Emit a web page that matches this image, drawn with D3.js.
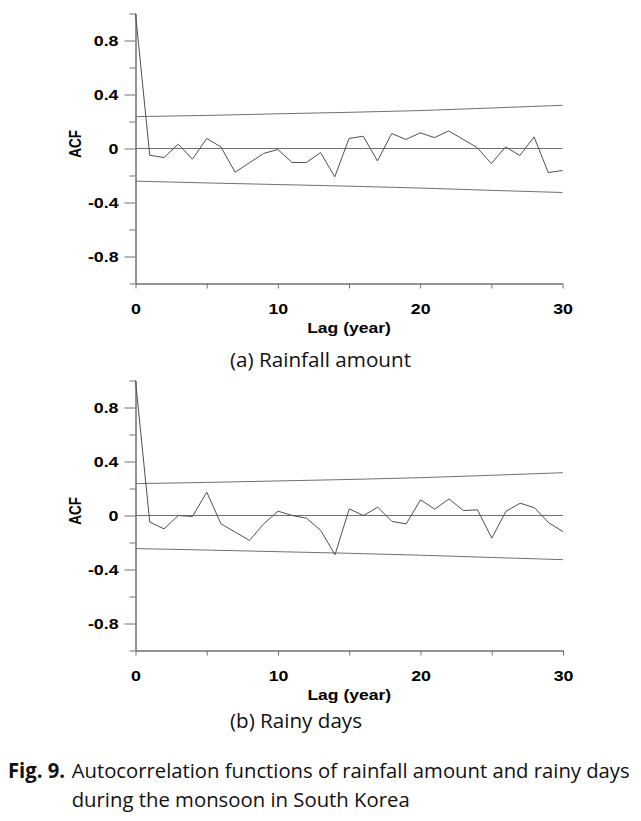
<!DOCTYPE html>
<html>
<head>
<meta charset="utf-8">
<script src="https://cdn.jsdelivr.net/npm/d3@7"></script>
<style>
  body { margin: 0; background: #ffffff; }
  svg { display: block; }
</style>
</head>
<body>
<script>
// ---- Data ----
const lags = [0,1,2,3,4,5,6,7,8,9,10,11,12,13,14,15,16,17,18,19,20,21,22,23,24,25,26,27,28,29,30];

const acfRainfall = [1.0, -0.050, -0.067, 0.032, -0.079, 0.074, 0.012, -0.176, -0.106, -0.037,
  -0.007, -0.104, -0.104, -0.030, -0.210, 0.074, 0.091, -0.092, 0.111, 0.067,
  0.116, 0.081, 0.130, 0.069, 0.007, -0.111, 0.012, -0.052, 0.086, -0.178, -0.163];

const acfRainyDays = [1.0, -0.049, -0.099, 0.000, -0.007, 0.173, -0.062, -0.123, -0.185, -0.062,
  0.032, 0.000, -0.020, -0.111, -0.291, 0.049, 0.000, 0.062, -0.044, -0.062,
  0.116, 0.047, 0.123, 0.037, 0.042, -0.168, 0.032, 0.091, 0.057, -0.054, -0.119];

// confidence limits read at every 5th lag
const bandLags = [0, 5, 10, 15, 20, 25, 30];
const upperRainfall = [0.236, 0.245, 0.257, 0.268, 0.281, 0.300, 0.320];
const lowerRainfall = [-0.242, -0.255, -0.267, -0.279, -0.293, -0.310, -0.326];
const upperRainyDays = [0.236, 0.245, 0.256, 0.267, 0.280, 0.298, 0.317];
const lowerRainyDays = [-0.245, -0.256, -0.268, -0.280, -0.294, -0.311, -0.327];

const yMajorTicks = [-0.8, -0.4, 0, 0.4, 0.8];
const yMinorTicks = [-1, -0.6, -0.2, 0.2, 0.6, 1];
const xMajorTicks = [0, 10, 20, 30];
const xMinorTicks = [5, 15, 25];

const panelCaptions = ["(a) Rainfall amount", "(b) Rainy days"];
const xTitle = "Lag (year)";
const yTitle = "ACF";
const figLabel = "Fig. 9.";
const figLine1 = "Autocorrelation functions of rainfall amount and rainy days";
const figLine2 = "during the monsoon in South Korea";

// ---- Drawing ----
const W = 641, H = 821;
const svg = d3.select("body").append("svg").attr("width", W).attr("height", H);

const axisColor = "#707070";
const lineColor = "#505050";
const labelFont = "'Liberation Sans', Arial, sans-serif";
const captionFont = "'Open Sans', 'Noto Sans', sans-serif";

function stretch(sel, k) {
  sel.each(function () {
    const w = this.getComputedTextLength();
    this.setAttribute("textLength", (w * k).toFixed(2));
    this.setAttribute("lengthAdjust", "spacingAndGlyphs");
  });
}
function fitTo(sel, width) {
  sel.attr("textLength", width).attr("lengthAdjust", "spacingAndGlyphs");
}

function drawPanel(cfg) {
  const x = d3.scaleLinear().domain([0, 30]).range(cfg.xRange);
  const y = d3.scaleLinear().domain([-1, 1]).range(cfg.yRange);
  const g = svg.append("g");

  // zero reference line
  g.append("line")
    .attr("x1", x(0)).attr("x2", x(30))
    .attr("y1", y(0)).attr("y2", y(0))
    .attr("stroke", axisColor).attr("stroke-width", 1);

  // confidence bands
  const bandLine = d3.line().x((d, i) => x(bandLags[i])).y(d => y(d));
  [cfg.upper, cfg.lower].forEach(b => {
    g.append("path").attr("d", bandLine(b))
      .attr("fill", "none").attr("stroke", axisColor).attr("stroke-width", 1);
  });

  // y axis (minor ticks)
  g.append("g").attr("transform", `translate(${x(0)},0)`)
    .call(d3.axisLeft(y).tickValues(yMinorTicks).tickSize(6).tickSizeOuter(0).tickFormat(""))
    .call(s => s.selectAll("line,path").attr("stroke", axisColor));
  // y axis (major ticks with labels)
  const ya = g.append("g").attr("transform", `translate(${x(0)},0)`)
    .call(d3.axisLeft(y).tickValues(yMajorTicks).tickSize(11).tickSizeOuter(0)
      .tickPadding(6).tickFormat(d => d === 0 ? "0" : String(d)))
    .call(s => s.selectAll("line,path").attr("stroke", axisColor));
  ya.selectAll("text")
    .attr("font-family", labelFont).attr("font-weight", "bold")
    .attr("font-size", 14).attr("fill", "#000").attr("x", -17).attr("dy", "0.35em");
  stretch(ya.selectAll("text"), 1.27);

  // x axis
  g.append("g").attr("transform", `translate(0,${y(-1)})`)
    .call(d3.axisBottom(x).tickValues(xMinorTicks).tickSize(5).tickSizeOuter(0).tickFormat(""))
    .call(s => s.selectAll("line,path").attr("stroke", axisColor));
  const xa = g.append("g").attr("transform", `translate(0,${y(-1)})`)
    .call(d3.axisBottom(x).tickValues(xMajorTicks).tickSize(5).tickSizeOuter(0))
    .call(s => s.selectAll("line,path").attr("stroke", axisColor));
  xa.selectAll("text")
    .attr("font-family", labelFont).attr("font-weight", "bold")
    .attr("font-size", 14).attr("fill", "#000").attr("y", 30).attr("dy", 0);
  stretch(xa.selectAll("text"), 1.27);

  // axis titles
  const xt = g.append("text")
    .attr("x", (x(0) + x(30)) / 2).attr("y", y(-1) + 49)
    .attr("text-anchor", "middle")
    .attr("font-family", labelFont).attr("font-weight", "bold").attr("font-size", 14)
    .text(xTitle);
  stretch(xt, 1.25);

  g.append("text")
    .attr("transform", `translate(80.5,${y(0) - 4.5}) rotate(-90) scale(1,1.2)`)
    .attr("text-anchor", "middle")
    .attr("font-family", labelFont).attr("font-weight", "bold").attr("font-size", 13.5)
    .text(yTitle);

  // ACF series
  const acfLine = d3.line().x((d, i) => x(lags[i])).y(d => y(d));
  g.append("path").attr("d", acfLine(cfg.series))
    .attr("fill", "none").attr("stroke", lineColor).attr("stroke-width", 1);

  // panel caption
  const cap = g.append("text")
    .attr("x", 230).attr("y", cfg.captionY)
    .attr("font-family", captionFont).attr("font-size", 20).attr("fill", "#111")
    .text(cfg.caption);
  fitTo(cap, cfg.captionW);
}

drawPanel({
  series: acfRainfall, upper: upperRainfall, lower: lowerRainfall,
  xRange: [135.5, 562.5], yRange: [283.5, 13.5],
  caption: panelCaptions[0], captionY: 366.5, captionW: 181
});
drawPanel({
  series: acfRainyDays, upper: upperRainyDays, lower: lowerRainyDays,
  xRange: [135.5, 563], yRange: [650.5, 380.5],
  caption: panelCaptions[1], captionY: 728, captionW: 132
});

// figure caption
svg.append("text").attr("x", 8).attr("y", 778)
  .attr("font-family", captionFont).attr("font-weight", "bold").attr("font-size", 20.5)
  .attr("fill", "#111").text(figLabel).call(fitTo, 57);
svg.append("text").attr("x", 71.7).attr("y", 778)
  .attr("font-family", captionFont).attr("font-size", 20.5)
  .attr("fill", "#111").text(figLine1).call(fitTo, 558);
svg.append("text").attr("x", 71.7).attr("y", 807)
  .attr("font-family", captionFont).attr("font-size", 20.5)
  .attr("fill", "#111").text(figLine2).call(fitTo, 338);
</script>
</body>
</html>
